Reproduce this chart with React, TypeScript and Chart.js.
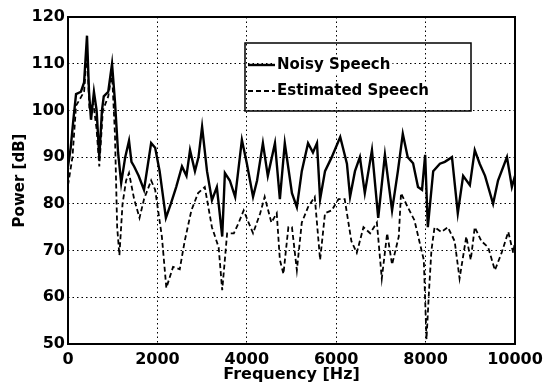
import React, { useEffect, useRef } from "react";
import { Chart, registerables } from "chart.js";

Chart.register(...registerables);

const noisyFreq = [0, 60, 120, 180, 290, 360, 425, 470, 515, 580, 640, 700, 760, 800, 900, 985, 1050, 1120, 1190, 1280, 1365, 1420, 1480, 1580, 1700, 1780, 1860, 1950, 2050, 2190, 2300, 2420, 2550, 2650, 2730, 2840, 2920, 3000, 3110, 3220, 3330, 3450, 3510, 3620, 3740, 3890, 4000, 4140, 4230, 4360, 4470, 4630, 4740, 4850, 5010, 5120, 5230, 5370, 5480, 5570, 5640, 5750, 5900, 6090, 6240, 6310, 6420, 6530, 6640, 6800, 6940, 7090, 7250, 7380, 7490, 7600, 7720, 7830, 7920, 7990, 8050, 8170, 8320, 8430, 8590, 8720, 8840, 8990, 9100, 9210, 9330, 9510, 9620, 9820, 9930, 10000];
const noisyPower = [88, 92, 98, 103.5, 104, 106, 116, 104, 98, 104, 100, 90, 100, 103, 104, 110, 102, 91, 84.5, 90, 93.5, 89, 88, 86, 83, 88, 93, 92, 87, 77, 80, 83.6, 88, 86, 91.5, 87, 90, 96.5, 87, 80.8, 83.6, 73, 86.6, 85, 81.5, 93.7, 88.7, 81.5, 85, 93, 86, 93, 81, 93, 82.3, 79.3, 87, 93, 91, 93, 81, 87, 90, 94.3, 88.6, 81.5, 87, 90, 82.3, 91.5, 77, 90.5, 78.6, 87, 95, 90, 88.7, 83.6, 83, 90.5, 75, 87, 88.6, 89, 90, 78, 86, 84, 91.5, 88.6, 86, 80, 85, 90, 83.6, 86];

const estFreq = [0, 100, 180, 300, 360, 425, 480, 560, 640, 700, 780, 900, 985, 1050, 1100, 1150, 1220, 1300, 1365, 1480, 1600, 1700, 1860, 1950, 2100, 2200, 2350, 2500, 2610, 2760, 2910, 3060, 3220, 3370, 3450, 3560, 3710, 3820, 3930, 4040, 4140, 4300, 4400, 4550, 4670, 4740, 4820, 4930, 5010, 5120, 5230, 5370, 5520, 5640, 5750, 5900, 6050, 6190, 6340, 6460, 6610, 6760, 6910, 7020, 7140, 7250, 7400, 7450, 7600, 7750, 7860, 7960, 8020, 8080, 8130, 8200, 8350, 8500, 8650, 8760, 8910, 9010, 9100, 9250, 9400, 9550, 9700, 9850, 9960, 10000];
const estPower = [84, 90, 101, 103, 104, 113, 100, 102, 96, 88, 100, 103, 108, 95, 75, 69, 80, 85, 86.6, 81, 77, 81, 85, 83, 73, 62, 66.5, 66, 72, 78.6, 82.3, 83.6, 75, 70.7, 61.5, 73.7, 73.7, 76, 78.6, 76, 73.7, 78, 81.5, 76, 78, 68, 65, 75, 75, 65.8, 76, 79.3, 81.5, 68, 78, 78.6, 81, 81, 72, 69.5, 75, 73.7, 76, 64, 73.7, 67, 73, 82.3, 79.3, 76.5, 72, 68, 51, 62, 70, 75, 74, 75, 72, 64, 73, 68, 75, 72, 70.7, 65.8, 69.5, 74, 69.5, 72];

const seriesLabels = ["Noisy Speech", "Estimated Speech"];
const xTitle = "Frequency [Hz]";
const yTitle = "Power [dB]";

const FONT = "'DejaVu Sans', Verdana, sans-serif";

const framePlugin = {
  id: "frameAndLegend",
  afterDatasetsDraw(chart: any) {
    const { ctx, chartArea } = chart;
    ctx.save();
    ctx.strokeStyle = "#000";
    ctx.lineWidth = 2;
    ctx.setLineDash([]);
    ctx.strokeRect(chartArea.left, chartArea.top, chartArea.right - chartArea.left, chartArea.bottom - chartArea.top);

    // legend box (transparent, grid shows through)
    const bx = 245, by = 43, bw = 226, bh = 68;
    ctx.lineWidth = 1.5;
    ctx.strokeRect(bx, by, bw, bh);
    const rows = [65, 91];
    ctx.font = `bold 15px ${FONT}`;
    ctx.textBaseline = "middle";
    ctx.textAlign = "left";
    chart.data.datasets.forEach((ds: any, i: number) => {
      const y = rows[i];
      const w = ctx.measureText(ds.label).width;
      ctx.fillStyle = "#fff";
      ctx.fillRect(275, y - 9, w + 4, 18);
      ctx.beginPath();
      ctx.lineWidth = ds.borderWidth;
      ctx.setLineDash(ds.borderDash || []);
      ctx.strokeStyle = ds.borderColor;
      ctx.moveTo(248, y);
      ctx.lineTo(275, y);
      ctx.stroke();
      ctx.setLineDash([]);
      ctx.fillStyle = "#000";
      ctx.fillText(ds.label, 277, y);
    });
    ctx.restore();
  },
};

export default function App() {
  const ref = useRef<HTMLCanvasElement>(null);
  useEffect(() => {
    if (!ref.current) return;
    const chart = new Chart(ref.current, {
      type: "line",
      data: {
        datasets: [
          {
            label: seriesLabels[0],
            data: noisyFreq.map((f, i) => ({ x: f, y: noisyPower[i] })),
            borderColor: "#000",
            borderWidth: 2.4,
            pointRadius: 0,
            tension: 0,
            fill: false,
          },
          {
            label: seriesLabels[1],
            data: estFreq.map((f, i) => ({ x: f, y: estPower[i] })),
            borderColor: "#000",
            borderWidth: 1.8,
            borderDash: [5, 3],
            pointRadius: 0,
            tension: 0,
            fill: false,
          },
        ],
      },
      options: {
        animation: false,
        responsive: false,
        maintainAspectRatio: false,
        layout: { padding: { top: 17, right: 28, left: 0, bottom: 0 } },
        plugins: { legend: { display: false }, tooltip: { enabled: false } },
        scales: {
          x: {
            type: "linear",
            min: 0,
            max: 10000,
            afterFit: (s: any) => { s.height = 40; s.paddingLeft = 0; s.paddingRight = 0; },
            ticks: { stepSize: 2000, color: "#000", padding: 6, font: { family: FONT, size: 16, weight: "bold" }, callback: (v: any) => String(v) },
            grid: { color: "#000", lineWidth: 1, drawTicks: false },
            border: { display: false, dash: [1.5, 3] },
            title: { display: true, text: xTitle, color: "#000", padding: { top: 0, bottom: 0 }, font: { family: FONT, size: 16, weight: "bold" } },
          },
          y: {
            type: "linear",
            min: 50,
            max: 120,
            afterFit: (s: any) => { s.width = 68; s.paddingTop = 0; s.paddingBottom = 0; },
            ticks: { stepSize: 10, color: "#000", padding: 3, font: { family: FONT, size: 16, weight: "bold" }, callback: (v: any) => String(v) },
            grid: { color: "#000", lineWidth: 1, drawTicks: false },
            border: { display: false, dash: [1.5, 3] },
            title: { display: true, text: yTitle, color: "#000", padding: { top: 11, bottom: 0 }, font: { family: FONT, size: 15, weight: "bold" } },
          },
        },
      },
      plugins: [framePlugin],
    });
    return () => chart.destroy();
  }, []);
  return (
    <div style={{ position: "fixed", left: 0, top: 0, width: 543, height: 384, background: "#fff" }}>
      <canvas ref={ref} width={543} height={384} style={{ width: 543, height: 384 }} />
    </div>
  );
}
